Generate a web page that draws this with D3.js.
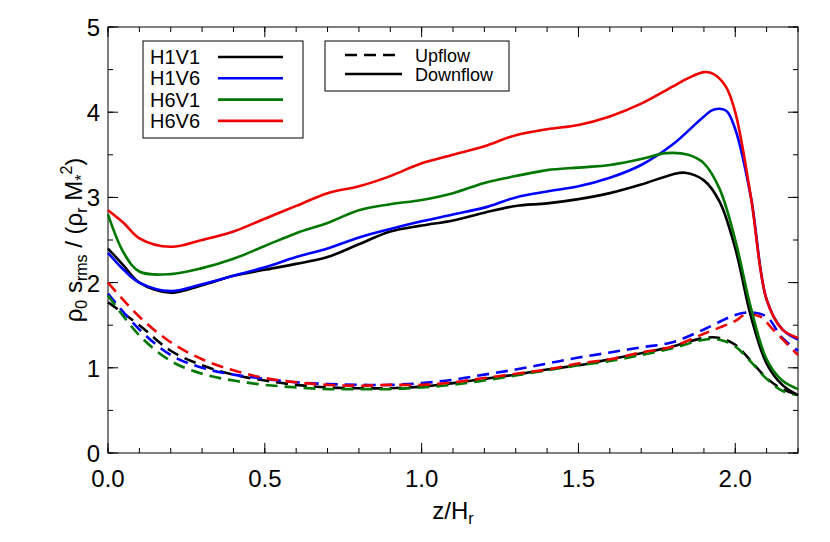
<!DOCTYPE html>
<html><head><meta charset="utf-8">
<script src="https://cdn.jsdelivr.net/npm/d3@7"></script>
<style>body{margin:0;background:#fff}text{font-family:"Liberation Sans",Arial,sans-serif}</style>
</head><body><svg id="c" width="830" height="542"></svg>
<script>
// Series values
const zMain = [0,0.05,0.1,0.2,0.3,0.4,0.5,0.6,0.7,0.8,0.9,1.0,1.1,1.2,1.3,1.4,1.5,1.6,1.7];
const h6v6Down = {z: zMain.concat([1.8,1.85,1.9,1.93,1.97,2.0,2.05,2.1,2.15,2.2]),
  v: [2.85,2.7,2.52,2.42,2.5,2.6,2.75,2.9,3.05,3.13,3.25,3.4,3.5,3.6,3.73,3.8,3.85,3.95,4.1,4.3,4.4,4.47,4.45,4.3,4.0,3.0,1.8,1.45,1.35]};
const h1v6Down = {z: zMain.concat([1.8,1.9,1.93,1.97,2.0,2.05,2.1,2.15,2.2]),
  v: [2.35,2.15,2.0,1.9,1.98,2.08,2.18,2.3,2.4,2.53,2.63,2.72,2.8,2.88,3.0,3.07,3.13,3.23,3.38,3.62,3.95,4.03,4.02,3.8,3.0,1.8,1.45,1.33]};
const h6v1Down = {z: zMain.concat([1.78,1.85,1.9,1.95,2.0,2.05,2.1,2.15,2.2]),
  v: [2.8,2.35,2.13,2.1,2.17,2.28,2.43,2.58,2.7,2.85,2.92,2.97,3.05,3.17,3.25,3.32,3.35,3.38,3.45,3.52,3.5,3.4,3.1,2.5,1.7,1.1,0.85,0.75]};
const h1v1Down = {z: zMain.concat([1.8,1.84,1.9,1.95,2.0,2.05,2.1,2.15,2.2]),
  v: [2.4,2.2,2.0,1.88,1.97,2.08,2.15,2.22,2.3,2.45,2.6,2.67,2.73,2.82,2.9,2.93,2.98,3.05,3.15,3.27,3.29,3.2,2.95,2.4,1.6,1.05,0.8,0.68]};
const zUp = [0,0.1,0.2,0.3,0.4,0.5,0.6,0.7,0.8,0.9,1.0,1.1,1.2,1.3,1.4,1.5,1.6,1.7,1.8,1.9];
const h6v6Up = {z: zUp.concat([2.0,2.03,2.08,2.12,2.2]),
  v: [2.0,1.6,1.3,1.1,0.97,0.88,0.83,0.8,0.79,0.8,0.8,0.83,0.88,0.93,0.98,1.05,1.1,1.18,1.25,1.4,1.55,1.62,1.6,1.45,1.15]};
const h1v6Up = {z: zUp.concat([2.0,2.05,2.1,2.15,2.2]),
  v: [1.87,1.45,1.15,1.0,0.92,0.87,0.83,0.81,0.8,0.8,0.82,0.86,0.92,0.98,1.05,1.12,1.18,1.24,1.3,1.45,1.62,1.65,1.6,1.35,1.2]};
const h1v1Up = {z: zUp.concat([1.95,2.0,2.05,2.1,2.15,2.2]),
  v: [1.77,1.5,1.2,1.03,0.92,0.85,0.8,0.77,0.76,0.76,0.78,0.82,0.87,0.92,0.98,1.03,1.1,1.17,1.25,1.35,1.35,1.27,1.08,0.88,0.75,0.68]};
const h6v1Up = {z: zUp.concat([1.95,2.0,2.05,2.1,2.15,2.2]),
  v: [1.85,1.38,1.08,0.93,0.85,0.8,0.77,0.75,0.75,0.75,0.77,0.8,0.85,0.91,0.97,1.03,1.08,1.15,1.23,1.33,1.33,1.25,1.07,0.87,0.73,0.68]};

const runs = ['H1V1','H1V6','H6V1','H6V6'];
const runColors = ['#000000','#0000ff','#007700','#ee0000'];
const xTicks = [0,0.5,1.0,1.5,2.0];
const yTicks = [0,1,2,3,4,5];

const series = [
  {d:h1v1Up,c:0,dash:true},{d:h1v6Up,c:1,dash:true},{d:h6v1Up,c:2,dash:true},{d:h6v6Up,c:3,dash:true},
  {d:h1v1Down,c:0},{d:h1v6Down,c:1},{d:h6v1Down,c:2},{d:h6v6Down,c:3}
];

const svg = d3.select('#c');
const L = 108, R = 798, T = 27, B = 453;
const x = d3.scaleLinear().domain([0,2.2]).range([L,R]);
const y = d3.scaleLinear().domain([0,5]).range([B,T]);

// frame
svg.append('rect').attr('x',L).attr('y',T).attr('width',R-L).attr('height',B-T)
  .attr('fill','none').attr('stroke','#000').attr('stroke-width',1);

// ticks on all four sides
const tk = (sel, vals, len, axis) => vals.forEach(v => {
  if (axis === 'x') {
    sel.append('line').attr('x1',x(v)).attr('x2',x(v)).attr('y1',B).attr('y2',B-len).attr('stroke','#000');
    sel.append('line').attr('x1',x(v)).attr('x2',x(v)).attr('y1',T).attr('y2',T+len).attr('stroke','#000');
  } else {
    sel.append('line').attr('y1',y(v)).attr('y2',y(v)).attr('x1',L).attr('x2',L+len).attr('stroke','#000');
    sel.append('line').attr('y1',y(v)).attr('y2',y(v)).attr('x1',R).attr('x2',R-len).attr('stroke','#000');
  }
});
const g = svg.append('g');
tk(g, d3.range(0,2.21,0.1), 5, 'x');
tk(g, xTicks, 10, 'x');
tk(g, d3.range(0,5.01,0.5), 5, 'y');
tk(g, yTicks, 10, 'y');

xTicks.forEach(v => svg.append('text').attr('x',x(v)).attr('y',B+34).attr('text-anchor','middle')
  .attr('font-size',24).text(v.toFixed(1)));
yTicks.forEach(v => svg.append('text').attr('x',L-8).attr('y',y(v)+9).attr('text-anchor','end')
  .attr('font-size',24).text(v));

// axis titles
const xt = svg.append('text').attr('x',(L+R)/2).attr('y',B+66).attr('text-anchor','middle').attr('font-size',24);
xt.append('tspan').text('z/H');
xt.append('tspan').attr('font-size',16).attr('dy',5).text('r');
const yt = svg.append('text').attr('transform',`translate(82,${(T+B)/2}) rotate(-90)`).attr('text-anchor','middle').attr('font-size',24);
yt.append('tspan').text('ρ');
yt.append('tspan').attr('font-size',16).attr('dy',5).text('0');
yt.append('tspan').attr('dy',-5).text(' s');
yt.append('tspan').attr('font-size',16).attr('dy',5).text('rms');
yt.append('tspan').attr('dy',-5).text(' / (ρ');
yt.append('tspan').attr('font-size',16).attr('dy',5).text('r');
yt.append('tspan').attr('dy',-5).text(' M');
yt.append('tspan').attr('font-size',16).attr('dy',5).text('*');
yt.append('tspan').attr('font-size',16).attr('dy',-15).text('2');
yt.append('tspan').attr('dy',10).text(')');

// curves
const line = d3.line().x(d => x(d[0])).y(d => y(d[1])).curve(d3.curveCatmullRom.alpha(0.5));
const plot = svg.append('g');
series.forEach(s => {
  plot.append('path').datum(s.d.z.map((z,i) => [z, s.d.v[i]]))
    .attr('d', line).attr('fill','none').attr('stroke',runColors[s.c]).attr('stroke-width',2.6)
    .attr('stroke-dasharray', s.dash ? '12,7' : null);
});

// legend 1: runs
svg.append('rect').attr('x',143).attr('y',41).attr('width',160).attr('height',97)
  .attr('fill','#fff').attr('stroke','#000');
runs.forEach((r,i) => {
  const yy = 57 + i*21.3;
  svg.append('text').attr('x',150).attr('y',yy+7).attr('font-size',20).text(r);
  svg.append('line').attr('x1',218).attr('x2',283).attr('y1',yy).attr('y2',yy)
    .attr('stroke',runColors[i]).attr('stroke-width',2.6);
});
// legend 2: flow direction
svg.append('rect').attr('x',325).attr('y',41).attr('width',184).attr('height',50)
  .attr('fill','#fff').attr('stroke','#000');
[['Upflow',true],['Downflow',false]].forEach((d,i) => {
  const yy = 55 + i*19;
  svg.append('line').attr('x1',345).attr('x2',402).attr('y1',yy).attr('y2',yy)
    .attr('stroke','#000').attr('stroke-width',2.6).attr('stroke-dasharray', d[1] ? '12,7' : null);
  svg.append('text').attr('x',415).attr('y',yy+7).attr('font-size',18).text(d[0]);
});
</script></body></html>
